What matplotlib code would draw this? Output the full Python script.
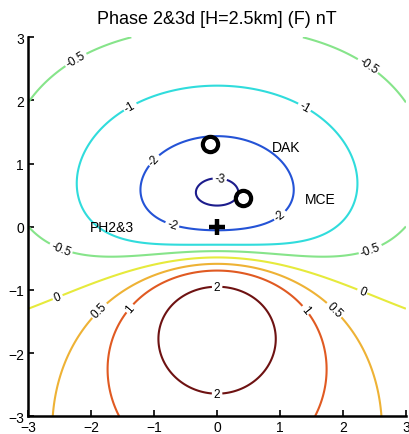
import numpy as np
import matplotlib
matplotlib.use("Agg")
import matplotlib.pyplot as plt

plt.rcParams["font.family"] = ["Liberation Sans", "DejaVu Sans"]
plt.rcParams["axes.unicode_minus"] = True

# Total-field anomaly of a buried magnetised dipole plus a weak regional trend
# (distances in km, field in nT)
SOURCE_X = 0.0
SOURCE_Y = -0.275
SOURCE_DEPTH = 2.10
FIELD_INCLINATION_DEG = 10.0
MAGNETISATION_INCLINATION_DEG = 55.0
AMPLITUDE = 3.654          # C / depth^3 in nT
REGIONAL_OFFSET = -0.038   # nT
REGIONAL_GRADIENT = -0.053  # nT per km northward

levels = [-3, -2, -1, -0.5, 0, 0.5, 1, 2]
level_colors = ["#1c1c8c", "#2453d6", "#30dcdc", "#86e48a",
                "#e6ea3c", "#eeb235", "#e05a22", "#6e1212"]

station_names = ["DAK", "MCE"]
station_x = [-0.11, 0.41]
station_y = [1.31, 0.45]
station_label_x = [0.87, 1.39]
station_label_y = [1.26, 0.44]

source_name = "PH2&3"
source_mark_x = [0.0]
source_mark_y = [0.0]
source_label_xy = (-2.02, 0.0)

ticks = [-3, -2, -1, 0, 1, 2, 3]

label_spots = [(-2.26, 2.67), (2.42, 2.58), (-2.47, -0.32), (2.42, -0.32),
               (-1.36, 1.86), (1.37, 1.86),
               (-0.99, 1.04), (-0.72, 0.01), (1.02, 0.15),
               (0.04, 0.72),
               (-2.58, -1.0), (2.34, -0.94),
               (-1.94, -1.26), (1.92, -1.26),
               (-1.46, -1.23), (1.47, -1.27),
               (0.0, -1.02), (0.0, -2.65)]


def anomaly(x, y):
    it = np.radians(FIELD_INCLINATION_DEG)
    im = np.radians(MAGNETISATION_INCLINATION_DEG)
    dx = x - SOURCE_X
    dy = y - SOURCE_Y
    dz = SOURCE_DEPTH
    r2 = dx ** 2 + dy ** 2 + dz ** 2
    t_r = dy * np.cos(it) - dz * np.sin(it)
    m_r = dy * np.cos(im) - dz * np.sin(im)
    scale = AMPLITUDE * SOURCE_DEPTH ** 3
    dipole = scale * (3 * m_r * t_r / r2 - np.cos(it - im)) / r2 ** 1.5
    return dipole + REGIONAL_OFFSET + REGIONAL_GRADIENT * y


gx = np.linspace(-3, 3, 241)
gy = np.linspace(-3, 3, 241)
X, Y = np.meshgrid(gx, gy)
Z = anomaly(X, Y)

fig = plt.figure(figsize=(4.10, 4.35), dpi=100)
ax = fig.add_axes([0.069, 0.041, 0.921, 0.871])

cs = ax.contour(X, Y, Z, levels=levels, colors=level_colors, linewidths=1.5)
ax.clabel(cs, fmt="%g", fontsize=8.5, inline=True, inline_spacing=2,
          colors="black", manual=label_spots)

ax.plot(station_x, station_y, "o", ms=11, mfc="none", mec="black", mew=3)
ax.plot(source_mark_x, source_mark_y, "+", ms=12, color="black", mew=3.2)
for name, tx, ty in zip(station_names, station_label_x, station_label_y):
    ax.text(tx, ty, name, fontsize=10, va="center", ha="left")
ax.text(source_label_xy[0], source_label_xy[1], source_name, fontsize=10,
        va="center", ha="left")

ax.set_xlim(-3, 3)
ax.set_ylim(-3, 3)
ax.set_xticks(ticks)
ax.set_yticks(ticks)
ax.tick_params(direction="in", length=4, width=1.2, labelsize=10, pad=3)
for side in ("top", "right"):
    ax.spines[side].set_visible(False)
for side in ("left", "bottom"):
    ax.spines[side].set_linewidth(1.8)
ax.set_title("Phase 2&3d [H=2.5km] (F) nT", fontsize=13, pad=10)

fig.savefig("out.png", dpi=100)
